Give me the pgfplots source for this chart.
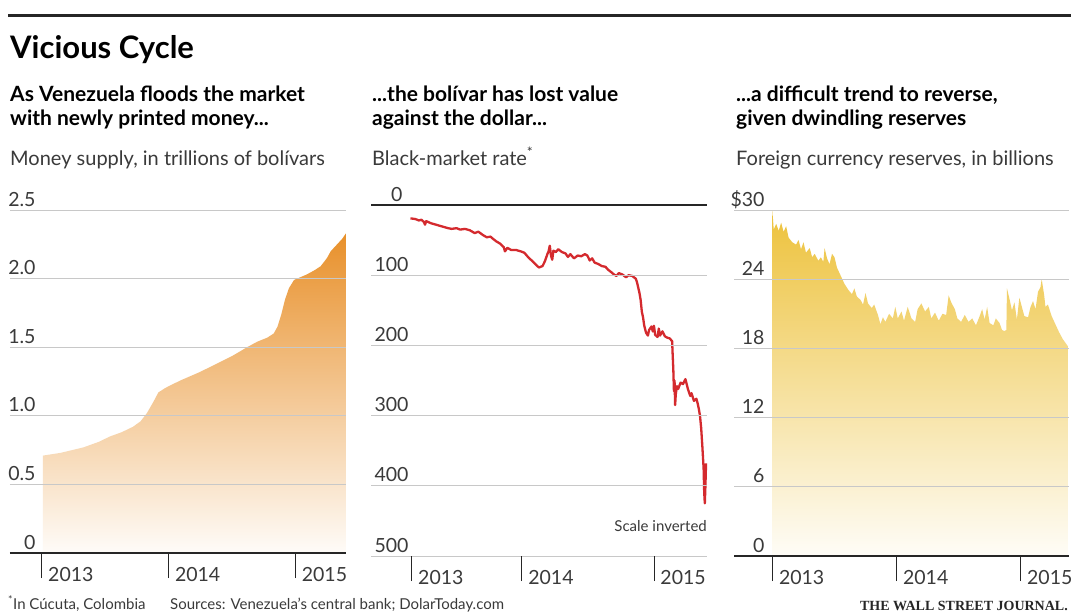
\documentclass[border=0pt]{standalone}
\usepackage{fontspec}
\setmainfont{Lato}
\newfontfamily\wsjfont{Liberation Serif}
\usepackage{pgfplots}
\pgfplotsset{compat=1.18}

\definecolor{orangeF}{HTML}{E8902A}
\definecolor{yellowF}{HTML}{EDC23C}
\definecolor{redL}{HTML}{D42A2E}
\definecolor{gridc}{HTML}{C8C8C8}
\definecolor{txt}{HTML}{3A3A3A}

\pgfplotsset{
  panel/.style={
    scale only axis, width=336pt,
    axis line style={draw=none},
    xtick pos=left, tick align=outside, major tick length=25pt,
    xtick style={black!85, line width=0.8pt},
    ytick style={draw=none},
    ymajorgrids, major grid style={gridc, line width=0.7pt},
    axis on top,
    ticklabel style={font=\fontsize{19.5}{19.5}\selectfont, text=txt},
    xticklabel style={anchor=base west, xshift=3pt, yshift=-3pt},
    yticklabel style={anchor=base east},
    xticklabels={2013,2014,2015},
    clip=true,
  }
}

\begin{document}
\begin{tikzpicture}
\useasboundingbox (0pt,0pt) rectangle (1071pt,-613pt);
\fill[white] (0pt,0pt) rectangle (1071pt,-613pt);
\draw[black!85, line width=3pt] (8pt,-15pt) -- (1071pt,-15pt);

\node[anchor=base west, inner sep=0pt, font=\fontsize{31}{31}\selectfont\bfseries] at (10pt,-58pt) {Vicious Cycle};

\begin{scope}[every node/.style={anchor=base west, inner sep=0pt, align=left, font=\fontsize{21}{24}\selectfont\bfseries}]
\node at (10pt,-125pt) {As Venezuela floods the market\\with newly printed money...};
\node at (372pt,-125pt) {...the bolívar has lost value\\against the dollar...};
\node at (736pt,-125pt) {...a difficult trend to reverse,\\given dwindling reserves};
\end{scope}
\begin{scope}[every node/.style={anchor=base west, inner sep=0pt, text=txt, font=\fontsize{20}{24}\selectfont}]
\node at (10pt,-165pt) {Money supply, in trillions of bolívars};
\node at (372pt,-165pt) {Black-market rate\textsuperscript{*}};
\node at (736pt,-165pt) {Foreign currency reserves, in billions};
\end{scope}

% Panel 1
\begin{axis}[panel, at={(10pt,-553pt)}, anchor=south west, height=343pt,
  xmin=2012.75, xmax=2015.40, ymin=0, ymax=2.5,
  xtick={2013,2014,2015},
  ytick={0.5,1,1.5,2,2.5}, yticklabels={0.5,1.0,1.5,2.0,2.5},
  extra y ticks={0}, extra y tick labels={0},
  extra y tick style={major grid style={black!85, line width=1.6pt}},
  yticklabel style={xshift=54pt, yshift=4pt}]
\addplot[draw=none, top color=orangeF, bottom color=orangeF!3] coordinates {
(2013.01,0.71) (2013.15,0.73) (2013.33,0.77) (2013.45,0.81) (2013.54,0.85)
(2013.63,0.88) (2013.72,0.92) (2013.78,0.96) (2013.83,1.02) (2013.88,1.10)
(2013.92,1.17) (2013.97,1.20) (2014.01,1.22) (2014.10,1.26) (2014.25,1.32)
(2014.38,1.38) (2014.51,1.44) (2014.62,1.50) (2014.70,1.54) (2014.78,1.57)
(2014.83,1.60) (2014.86,1.65) (2014.89,1.74) (2014.92,1.85) (2014.95,1.93)
(2014.99,1.99) (2015.04,2.01) (2015.09,2.03) (2015.15,2.06) (2015.20,2.09)
(2015.25,2.15) (2015.28,2.20) (2015.33,2.25) (2015.37,2.29) (2015.40,2.33)
} \closedcycle;
\end{axis}

% Panel 2
\begin{axis}[panel, at={(371pt,-556pt)}, anchor=south west, height=351pt,
  xmin=2012.664, xmax=2015.438, ymin=0, ymax=500, y dir=reverse,
  xtick={2013,2013.909,2015},
  ytick={100,200,300,400,500}, yticklabels={100,200,300,400,500},
  extra y ticks={0}, extra y tick labels={0},
  extra y tick style={major grid style={black!85, line width=1.6pt}, yticklabel style={xshift=-6pt}},
  yticklabel style={xshift=66pt, yshift=4pt}]
\addplot[redL, line width=2.3pt, line join=round] coordinates {
(2012.99,19) (2013.03,20) (2013.06,22) (2013.08,21) (2013.10,24) (2013.11,28)
(2013.12,23) (2013.16,26) (2013.20,28) (2013.26,31) (2013.30,33) (2013.33,34)
(2013.37,33) (2013.40,35) (2013.44,34) (2013.48,36) (2013.52,40) (2013.55,38)
(2013.59,43) (2013.62,46) (2013.65,45) (2013.67,48) (2013.70,52) (2013.73,55)
(2013.76,60) (2013.77,66) (2013.79,61) (2013.82,64) (2013.86,64) (2013.90,66)
(2013.93,68) (2013.96,74) (2013.99,79) (2014.02,84) (2014.05,89) (2014.08,87)
(2014.10,80) (2014.12,70) (2014.13,66) (2014.14,58) (2014.15,72) (2014.16,78)
(2014.17,65) (2014.19,67) (2014.21,63) (2014.24,67) (2014.27,69) (2014.29,74)
(2014.31,70) (2014.34,76) (2014.37,72) (2014.40,73) (2014.43,70) (2014.45,72)
(2014.47,79) (2014.49,76) (2014.51,82) (2014.54,84) (2014.57,87) (2014.60,88)
(2014.62,92) (2014.65,96) (2014.67,99) (2014.69,101) (2014.71,97) (2014.74,99)
(2014.77,103) (2014.79,100) (2014.82,101) (2014.85,105) (2014.86,110)
(2014.88,125) (2014.89,135) (2014.90,152) (2014.91,160) (2014.92,172)
(2014.935,182) (2014.95,186) (2014.96,178) (2014.98,173) (2014.99,180)
(2015.00,172) (2015.01,185) (2015.03,188) (2015.04,176) (2015.05,186)
(2015.07,180) (2015.09,187) (2015.11,189) (2015.13,190) (2015.15,194)
(2015.155,215) (2015.16,235) (2015.165,265) (2015.17,250) (2015.175,285)
(2015.18,270) (2015.19,258) (2015.20,262) (2015.22,253) (2015.24,255)
(2015.26,248) (2015.28,262) (2015.30,272) (2015.31,268) (2015.33,279)
(2015.35,276) (2015.36,282) (2015.37,290) (2015.38,300) (2015.39,318)
(2015.40,345) (2015.41,375) (2015.415,410) (2015.42,425) (2015.425,400)
(2015.43,368)
};
\end{axis}
\node[anchor=base east, inner sep=0pt, text=txt, font=\fontsize{15}{15}\selectfont] at (707pt,-531pt) {Scale inverted};

% Panel 3
\begin{axis}[panel, at={(734pt,-556pt)}, anchor=south west, width=335pt, height=346pt,
  xmin=2012.69, xmax=2015.39, ymin=0, ymax=30,
  xtick={2013,2014,2015},
  ytick={6,12,18,24,30}, yticklabels={6,12,18,24,\$30},
  extra y ticks={0}, extra y tick labels={0},
  extra y tick style={major grid style={black!85, line width=1.6pt}},
  yticklabel style={xshift=59pt, yshift=4pt}]
\addplot[draw=none, top color=yellowF, bottom color=yellowF!4] coordinates {
(2013.00,29.9) (2013.01,28.3) (2013.03,28.8) (2013.05,28.2) (2013.07,28.9)
(2013.09,28.1) (2013.11,28.6) (2013.13,27.6) (2013.16,27.2) (2013.19,27.0)
(2013.21,27.4) (2013.23,26.6) (2013.25,27.2) (2013.27,26.3) (2013.30,26.7)
(2013.32,25.9) (2013.34,26.2) (2013.37,25.6) (2013.39,25.9) (2013.41,25.5)
(2013.42,26.7) (2013.44,25.8) (2013.46,25.3) (2013.48,26.2) (2013.50,25.9)
(2013.52,25.0) (2013.55,24.3) (2013.58,23.6) (2013.61,23.1) (2013.64,22.7)
(2013.66,23.2) (2013.68,22.5) (2013.71,22.2) (2013.73,21.8) (2013.75,22.8)
(2013.77,21.9) (2013.80,21.5) (2013.82,21.8) (2013.85,20.9) (2013.87,20.1)
(2013.89,20.7) (2013.91,20.3) (2013.94,21.0) (2013.97,20.6) (2013.99,21.6)
(2014.01,20.6) (2014.04,21.2) (2014.06,20.4) (2014.09,21.6) (2014.12,20.6)
(2014.15,20.3) (2014.17,21.4) (2014.20,21.9) (2014.23,21.2) (2014.26,21.6)
(2014.28,20.6) (2014.31,21.1) (2014.34,20.4) (2014.37,21.0) (2014.40,20.9)
(2014.42,22.6) (2014.44,22.0) (2014.47,21.4) (2014.49,20.6) (2014.52,20.3)
(2014.55,20.9) (2014.58,20.3) (2014.61,20.6) (2014.64,20.0) (2014.67,20.8)
(2014.69,21.4) (2014.71,20.5) (2014.73,21.6) (2014.75,20.2) (2014.78,20.0)
(2014.80,20.6) (2014.83,20.2) (2014.85,19.6) (2014.87,19.5) (2014.885,19.6)
(2014.89,23.2) (2014.91,22.3) (2014.93,21.3) (2014.95,22.0) (2014.97,20.5)
(2014.99,22.4) (2015.01,21.6) (2015.03,20.8) (2015.06,20.7) (2015.08,21.6)
(2015.10,22.1) (2015.12,21.4) (2015.14,22.9) (2015.16,23.3) (2015.17,24.0)
(2015.19,22.6) (2015.20,21.6) (2015.22,21.8) (2015.25,20.8) (2015.28,20.1)
(2015.31,19.4) (2015.34,18.8) (2015.38,18.2)
} \closedcycle;
\end{axis}

\node[anchor=base west, inner sep=0pt, text=txt, font=\fontsize{15}{15}\selectfont] at (8pt,-609pt) {\textsuperscript{*}In Cúcuta, Colombia};
\node[anchor=base west, inner sep=0pt, text=txt, font=\fontsize{15}{15}\selectfont] at (170pt,-609pt) {Sources: Venezuela’s central bank; DolarToday.com};
\node[anchor=base east, inner sep=0pt, text=black!85, font=\fontsize{14}{14}\selectfont\wsjfont\bfseries] at (1068pt,-610pt) {THE WALL STREET JOURNAL.};
\end{tikzpicture}
\end{document}
